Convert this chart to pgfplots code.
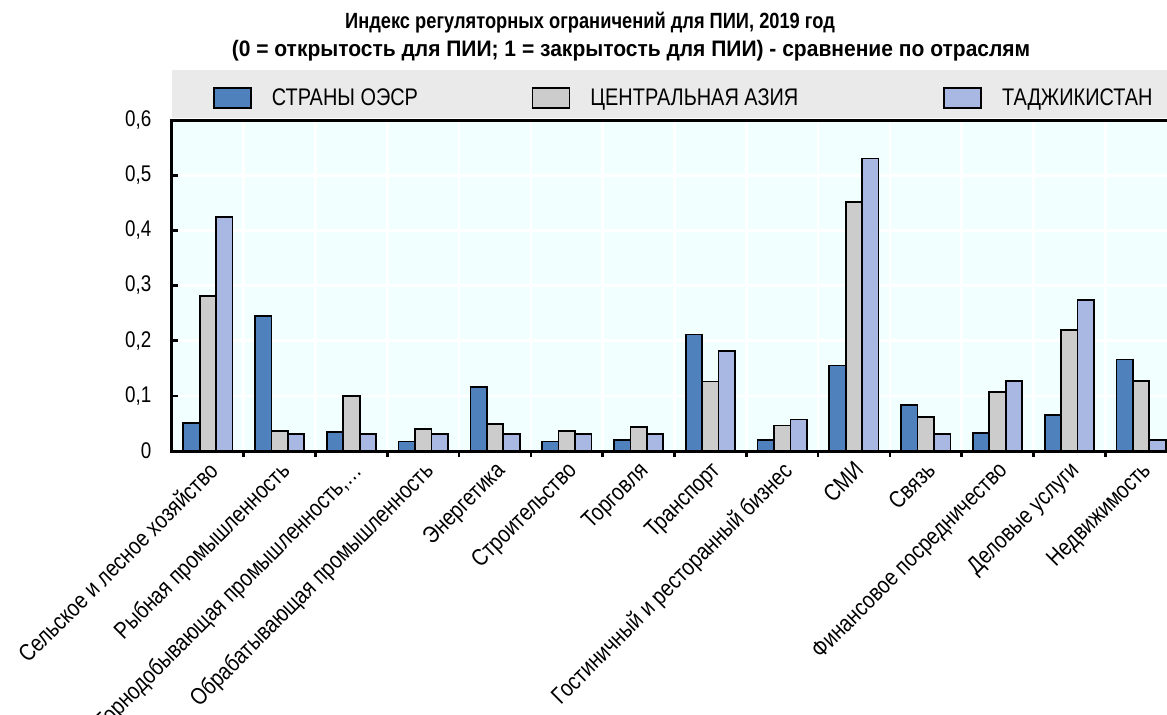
\documentclass[border=0pt]{standalone}
\usepackage{fontspec}
\setmainfont{Liberation Sans}[FakeStretch=0.83]
\usepackage{graphicx}
\usepackage{pgfplots}
\pgfplotsset{compat=1.18}

\definecolor{oecd}{HTML}{4F81BD}
\definecolor{ca}{HTML}{CCCCCC}
\definecolor{tj}{HTML}{A8B8E2}
\definecolor{plotbg}{HTML}{F2FFFF}
\definecolor{band}{HTML}{EAEAEA}

\begin{document}
\begin{tikzpicture}
% legend band and title
\fill[band] (0pt,249.75pt) rectangle (760pt,285.75pt);
\node[anchor=base, font=\bfseries\fontsize{16.5}{19}\selectfont, inner sep=0pt]
  at (313.5pt,316.5pt) {Индекс регуляторных ограничений для ПИИ, 2019 год};
\node[anchor=base, font=\bfseries\fontsize{16.8}{19}\selectfont, inner sep=0pt]
  at (344.25pt,295.75pt) {\scalebox{1.13}[1]{(0 = открытость для ПИИ; 1 = закрытость для ПИИ) - сравнение по отраслям}};
\begin{axis}[
  scale only axis,
  width=753.75pt, height=248.25pt,
  xmin=0, xmax=14, ymin=0, ymax=0.6,
  axis background/.style={fill=plotbg},
  axis line style={line width=2.25pt, black},
  tick pos=left, tick align=inside,
  xtick={0.5,1.5,...,13.5},
  minor xtick={1,2,...,13},
  major x tick style={draw=none},
  minor x tick style={black, line width=2pt},
  ytick={0,0.1,...,0.6},
  y tick style={black, line width=2pt},
  major tick length=4.5pt, minor tick length=4.5pt,
  ymajorgrids, xminorgrids,
  grid style={white, line width=2pt},
  minor grid style={white, line width=2pt},
  /pgf/number format/assume math mode=true,
  /pgf/number format/use comma,
  /pgf/number format/fixed,
  yticklabel style={font=\fontsize{17}{20}\selectfont, xshift=-12pt},
  xticklabel style={font=\fontsize{17.8}{20}\selectfont, rotate=45, anchor=north east, inner sep=1pt, xshift=-1pt},
  xticklabels={Сельское и лесное хозяйство, Рыбная промышленность, {Горнодобывающая промышленность,…}, Обрабатывающая промышленность, Энергетика, Строительство, Торговля, Транспорт, Гостиничный и ресторанный бизнес, СМИ, Связь, Финансовое посредничество, Деловые услуги, Недвижимость},
  ybar, bar width=0.229,
  every axis plot/.append style={draw=black, line width=1.3pt},
  legend columns=3,
  legend style={at={(axis description cs:0.0408,1.0665)}, anchor=west,
    draw=none, fill=none, inner sep=0pt,
    font=\fontsize{18}{21}\selectfont,
    nodes={inner sep=0pt},
    /tikz/every odd column/.append style={column sep=15pt}},
  legend image code/.code={\draw[#1, line width=1.2pt] (0pt,-7.5pt) rectangle (27.75pt,7.5pt);},
]
\addplot[fill=oecd, bar shift=-0.229] coordinates {
  (0.5,0.051) (1.5,0.245) (2.5,0.034) (3.5,0.017) (4.5,0.116) (5.5,0.017) (6.5,0.020)
  (7.5,0.211) (8.5,0.020) (9.5,0.155) (10.5,0.083) (11.5,0.033) (12.5,0.065) (13.5,0.166)};
\addplot[fill=ca, bar shift=0] coordinates {
  (0.5,0.281) (1.5,0.036) (2.5,0.100) (3.5,0.040) (4.5,0.049) (5.5,0.036) (6.5,0.044)
  (7.5,0.126) (8.5,0.046) (9.5,0.452) (10.5,0.062) (11.5,0.107) (12.5,0.220) (13.5,0.127)};
\addplot[fill=tj, bar shift=0.229] coordinates {
  (0.5,0.424) (1.5,0.031) (2.5,0.031) (3.5,0.031) (4.5,0.031) (5.5,0.031) (6.5,0.031)
  (7.5,0.181) (8.5,0.057) (9.5,0.530) (10.5,0.031) (11.5,0.127) (12.5,0.274) (13.5,0.020)};
\legend{\makebox[195pt][l]{СТРАНЫ ОЭСР}, \makebox[264.75pt][l]{ЦЕНТРАЛЬНАЯ АЗИЯ}, ТАДЖИКИСТАН}
\end{axis}
\pgfresetboundingbox
\path (-129pt,-197.25pt) rectangle (746.25pt,338.25pt);
\end{tikzpicture}
\end{document}
